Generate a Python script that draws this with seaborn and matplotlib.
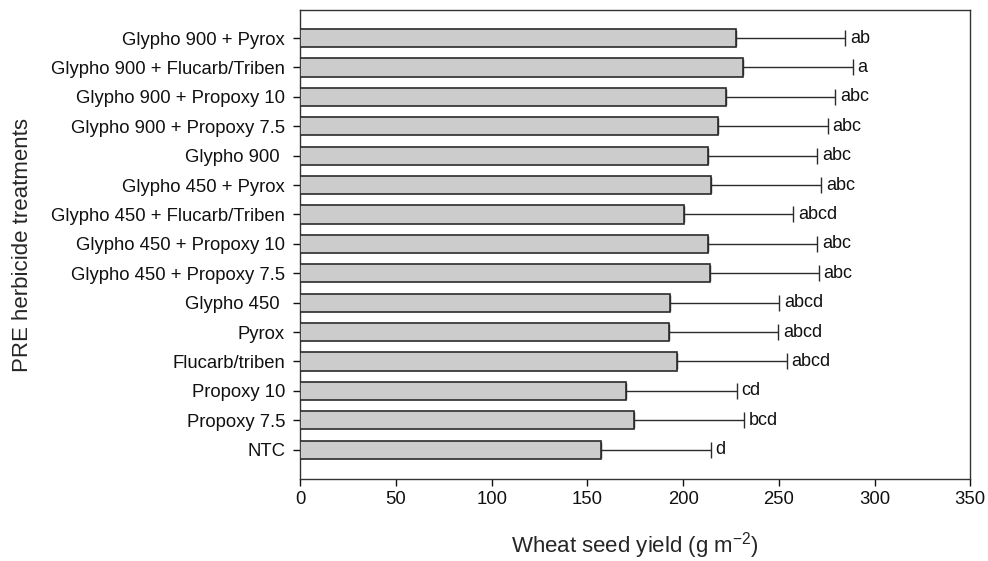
import numpy as np
import pandas as pd
import matplotlib
matplotlib.use("Agg")
import matplotlib.pyplot as plt
import seaborn as sns

treatments = [
    "Glypho 900 + Pyrox", "Glypho 900 + Flucarb/Triben", "Glypho 900 + Propoxy 10",
    "Glypho 900 + Propoxy 7.5", "Glypho 900 ", "Glypho 450 + Pyrox",
    "Glypho 450 + Flucarb/Triben", "Glypho 450 + Propoxy 10", "Glypho 450 + Propoxy 7.5",
    "Glypho 450 ", "Pyrox", "Flucarb/triben", "Propoxy 10", "Propoxy 7.5", "NTC",
]
yield_mean = [227.5, 231.3, 222.4, 218.0, 212.8, 214.8, 200.4, 212.8, 213.8,
              193.0, 192.4, 197.0, 170.3, 174.3, 157.3]
yield_err = [57.1, 57.3, 57.2, 57.6, 57.3, 57.3, 57.1, 57.3, 57.1,
             57.1, 57.3, 57.1, 57.7, 57.4, 57.1]
letters = ["ab", "a", "abc", "abc", "abc", "abc", "abcd", "abc", "abc",
           "abcd", "abcd", "abcd", "cd", "bcd", "d"]

df = pd.DataFrame({"treatment": treatments, "yield": yield_mean})

sns.set_style("ticks")
plt.rcParams["font.family"] = ["Liberation Sans", "DejaVu Sans"]

fig, ax = plt.subplots(figsize=(9.88, 5.61), dpi=100)
fig.subplots_adjust(left=0.304, right=0.982, top=0.982, bottom=0.146)

sns.barplot(data=df, x="yield", y="treatment", orient="h", order=treatments,
            color="#cccccc", saturation=1, edgecolor="#2b2b2b", linewidth=1.2,
            width=0.62, errorbar=None, ax=ax, zorder=3)

pos = np.arange(len(treatments))
ax.errorbar(yield_mean, pos, xerr=[np.zeros(len(pos)), yield_err], fmt="none",
            ecolor="#2b2b2b", elinewidth=1, capsize=6, capthick=1, zorder=2)

for i, (m, e, lab) in enumerate(zip(yield_mean, yield_err, letters)):
    ax.text(m + e + 2.5, i, lab, va="center", ha="left", fontsize=13, color="#111111")

ax.set_xlim(0, 350)
ax.set_xticks(range(0, 351, 50))
ax.set_ylim(len(treatments) - 1 + 1.0, -0.95)

for s in ax.spines.values():
    s.set_visible(True)
    s.set_color("#333333")
    s.set_linewidth(1)

ax.tick_params(axis="both", labelsize=13.3, colors="#111111", length=5, width=1)
ax.tick_params(axis="y", pad=6)
ax.set_xlabel("Wheat seed yield (g m$\\mathregular{^{-2}}$)", fontsize=16, labelpad=16)
ax.set_ylabel("PRE herbicide treatments", fontsize=16)
ax.yaxis.set_label_coords(-0.399, 0.5)

fig.savefig("out.png", dpi=100)
